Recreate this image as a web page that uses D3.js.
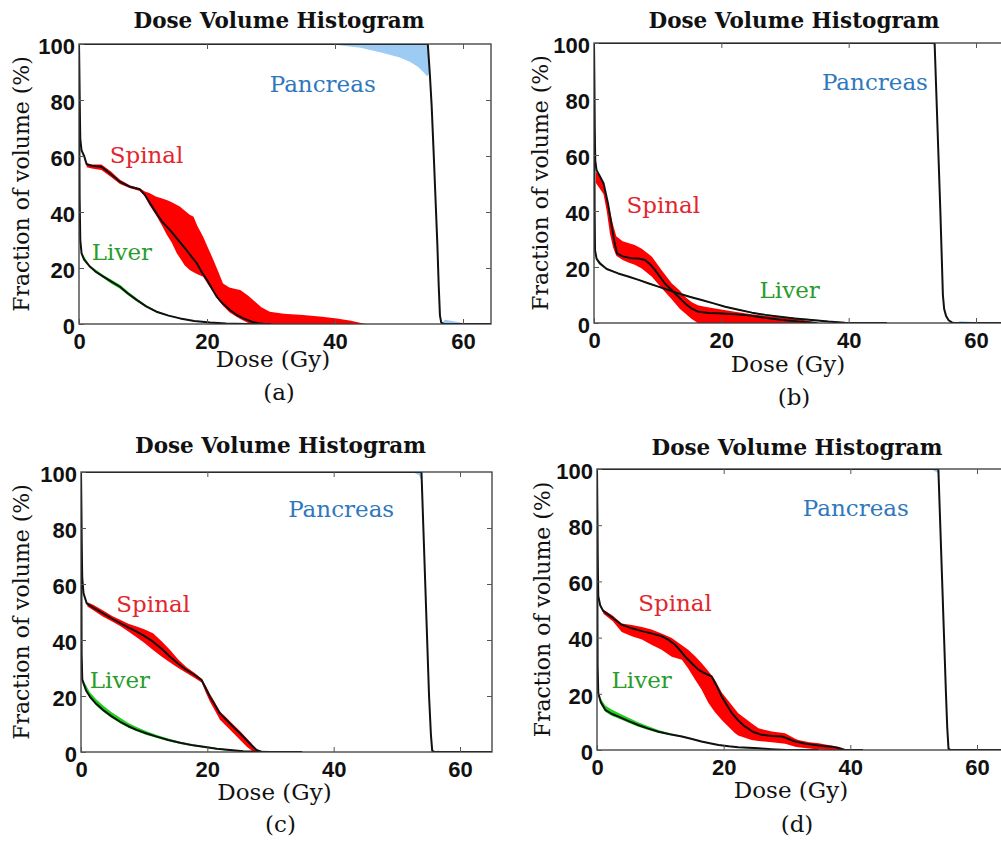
<!DOCTYPE html>
<html lang="en">
<head>
  <meta charset="UTF-8">
  <title>Dose Volume Histogram</title>
  <script src="https://d3js.org/d3.v7.min.js"></script>
  <style>
    body { margin: 0; background: #fff; }
  </style>
</head>
<body>
<script>
// Data: [dose (Gy), volume %] for lines, [dose, low %, high %] for bands

// ---- panel (a)
const pancreasLineA = [[0,100],[54.5,100],[54.8,90],[55.1,78],[55.4,62],[55.7,45],[56,28],[56.2,14],[56.4,3],[56.6,0.5],[57,0],[65,0]];
const pancreasBandA = [[37,100,100],[40,99.7,100],[44,98.7,100],[47.5,96.8,100],[50,95.3,100],[51.7,93.7,100],[53,91.8,100],[53.8,90,100],[54.4,88.5,100],[54.6,89,95],[54.75,90,90],[56.6,0,0],[57.2,0,1.5],[58.5,0,1],[60,0,0.4],[60.5,0,0]];
const spinalLineA = [[0,100],[0.1,80],[0.2,66],[0.4,62],[0.8,60],[1.2,57],[2,56.5],[3.5,56.2],[5,53.5],[6.4,50.8],[8,49],[9.5,48.1],[10.3,46.1],[11,43.5],[12.1,39.5],[13,36.5],[14.2,33.6],[15.5,30],[16.8,26.4],[17.6,24],[18.4,21.7],[19.2,18.5],[20,15.7],[20.8,12.5],[21.5,9.8],[22.5,7.2],[23.6,5],[24.6,3.3],[25.7,2],[27,0.8],[28,0.3],[29,0]];
const spinalBandA = [[1.2,56,57.5],[2,55.5,57],[3.5,55,57],[5,52.5,54.5],[6.4,50,51.5],[8,48.5,49.5],[9.5,47.5,48.5],[10.3,45.5,47.3],[11,42.5,46.8],[12,39,45.5],[13,35,44.8],[13.7,32,44.3],[14.5,29,43.5],[15.3,25.2,42.5],[15.8,23.5,41.9],[16.5,21,40.5],[17.3,19.3,39],[17.9,18.5,38.3],[18.5,17.8,35],[19.4,16.9,31.2],[20.2,14,27],[21,11.5,22.9],[21.8,8.5,18.5],[22.5,6.5,14.5],[23.5,4.2,13],[24.6,2.6,12.4],[25.2,1.8,12.1],[26.5,0.3,10],[27.2,0,8.6],[28.5,0,6],[29.8,0,4.4],[32,0,3.7],[35,0,3.2],[38,0,2.6],[40.3,0,2],[42.5,0,1.2],[44.4,0,0.2],[45,0,0]];
const liverLineA = [[0,100],[0.05,70],[0.1,45],[0.2,30],[0.4,25.2],[0.8,23],[1.7,20.5],[2.7,18.5],[3.8,16.9],[5,15.2],[6.4,13.3],[7.6,11],[9,8.6],[10.5,6.3],[12.1,4.4],[14,3],[15.8,2],[18,1.1],[20.5,0.5],[23,0.2],[26.2,0],[30,0]];
const liverBandA = [[0.4,24.8,25.6],[1.7,20.1,20.9],[3.8,16.4,17.5],[5,14.5,15.9],[6.4,12.6,14],[7.6,10.4,11.7],[9,8.1,9.2],[10.5,5.9,6.7],[12.1,4.1,4.7],[14,2.8,3.2],[15.8,1.8,2.2],[18,1,1.2],[20.5,0.4,0.6],[23,0.1,0.3]];

// ---- panel (b)
const pancreasLineB = [[0,100],[53.5,100],[53.8,80],[54.1,60],[54.4,40],[54.6,25],[54.8,10],[55,5],[55.3,2.5],[55.7,1],[56.2,0.2],[56.6,0],[65,0]];
const pancreasBandB = [[52,100,100],[53.5,99.4,100],[53.8,80,80],[56.6,0,0],[57.5,0,0.6],[59.5,0,0.4],[60.5,0,0]];
const spinalLineB = [[0,100],[0.1,70],[0.2,58],[0.4,54.6],[0.9,52.5],[1.5,49.9],[2.2,42.7],[2.8,34.4],[3.2,29],[3.6,24.9],[4.5,23.8],[5.9,23.1],[7,23],[8,22.5],[8.8,21],[9.6,18.9],[11.1,14.2],[12.7,10.6],[14.3,7],[15.3,5.2],[16.4,4],[18,3.6],[19.5,3.5],[21.5,3.2],[23.7,2.9],[25.5,2.3],[27.4,1.7],[30,1],[32.1,0.5],[35,0]];
const spinalBandB = [[0.3,50,54],[0.9,48,52.5],[1.5,46,50],[2,40,45],[2.5,32,40],[3,27,35],[3.5,24,31],[4.5,22.5,29.2],[5.5,21.5,28.5],[6.4,20.8,27.9],[7.5,19.5,26.5],[9.1,16.5,23.7],[10.6,12.5,18.9],[12.2,8.5,14.2],[13.5,5,11.5],[14.3,3.5,9.4],[15.3,1.5,7.5],[16.3,0,6.3],[17.4,0,5.8],[19.5,0,5],[22.1,0,4],[25,0,3],[27.9,0,2.3],[30,0,1.8],[32,0,1.4],[33.5,0,0.8],[35,0,0.2],[35.5,0,0]];
const liverLineB = [[0,100],[0.05,70],[0.1,40],[0.16,26],[0.4,23],[0.9,21.3],[2,19.3],[3.8,17.7],[5.5,16.5],[7,15.4],[8.5,14.2],[10.1,13],[11.7,11.8],[13.2,10.6],[15,9.4],[16.9,8.2],[18.8,7],[20.6,5.8],[22.7,4.7],[24.8,3.7],[26.9,2.9],[28.9,2.3],[31.5,1.6],[34.2,1.1],[36.8,0.5],[39.4,0.1],[42,0],[46,0]];
const liverBandB = [[0.4,22.8,23.2],[2,19.1,19.5],[3.8,17.5,17.9],[7,15.2,15.6],[10.1,12.8,13.2],[13.2,10.4,10.8],[16.9,8,8.4],[20.6,5.6,6],[24.8,3.5,3.9],[28.9,2.1,2.5],[34.2,0.9,1.3],[39.4,0,0.2]];

// ---- panel (c)
const pancreasLineC = [[0,100],[53.9,100],[54.2,80],[54.5,60],[54.8,40],[55.1,20],[55.4,6],[55.6,0.5],[56,0],[65,0]];
const pancreasBandC = [[52.5,100,100],[53.5,98.8,100],[53.9,97,100],[54.1,90,90],[55.6,0,0],[56.5,0,0.5],[58,0,0]];
const spinalLineC = [[0,100],[0.1,75],[0.2,62],[0.4,56.7],[0.9,53.1],[2,51.5],[3.5,49.5],[5,47.5],[6.2,46],[7.5,44.5],[8.8,43],[10,41.5],[11.4,39.4],[12.8,36.8],[14.1,34],[15.4,31.5],[16.7,29.3],[18,27.5],[19.1,25.7],[19.8,22.5],[20.4,19.8],[21.2,16.8],[22,13.8],[23,11.5],[24.1,9],[25.2,6.6],[26.2,4.3],[27,2.4],[27.8,0.7],[28.6,0],[32,0]];
const spinalBandC = [[1,52,53.5],[2,50.5,52.5],[3.5,48.3,50.5],[5,46.5,48.5],[6.2,45,47.2],[7.5,43,45.8],[8.8,41,44.8],[10,39,43.8],[11.4,36.4,42.4],[12.8,34,39.5],[14.1,32,36.4],[15.4,30,33],[16.7,28.2,30.3],[18,26.4,28.2],[19.1,24.8,26.2],[19.8,21,23.5],[20.4,18,20.8],[21.2,14.8,17.8],[22,11.5,14.5],[23,9.3,12.3],[24.1,6.8,9.8],[25.2,4.3,7.4],[26.2,2,5],[27,0.5,3],[27.5,0,1.5],[28,0,0.5],[28.4,0,0]];
const liverLineC = [[0,100],[0.05,70],[0.1,35],[0.2,26],[0.4,24.5],[0.8,22],[1.4,19.8],[2.4,17.2],[3.5,15],[4.8,12.8],[6.2,10.8],[7.5,9.2],[8.8,7.9],[10.4,6.6],[12,5.5],[13.8,4.3],[15.7,3.3],[17.5,2.5],[19.4,1.9],[21.5,1.2],[23.6,0.7],[25.7,0.3],[27.8,0.1],[30,0],[35,0]];
const liverBandC = [[0.4,24,25.5],[1.4,19.2,21.3],[2.4,16.6,18.8],[3.5,14.4,16.6],[4.8,12.2,14.3],[6.2,10.3,12.2],[7.5,8.7,10.4],[8.8,7.4,8.9],[10.4,6.1,7.4],[12,5,6.1],[13.8,3.9,4.8],[15.7,2.9,3.7],[17.5,2.1,2.8],[19.4,1.5,2.1],[21.5,0.9,1.4],[23.6,0.4,0.9],[25.7,0.1,0.4],[27.8,0,0.1]];

// ---- panel (d)
const pancreasLineD = [[0,100],[53.9,100],[54.2,80],[54.5,60],[54.8,40],[55.1,20],[55.3,8],[55.5,0.5],[55.8,0],[65,0]];
const pancreasBandD = [[52,100,100],[53,99.6,100],[53.9,98.5,100],[54.1,90,90],[55.5,0,0],[56.5,0,0.4],[57.5,0,0]];
const spinalLineD = [[0,100],[0.1,70],[0.2,54.8],[0.5,51.5],[1,49.4],[2.5,47],[3.9,44.6],[5.5,43.3],[7.1,42.3],[8.6,41.5],[10.2,40.5],[11.3,39.2],[12.3,37.5],[13.1,35.5],[13.9,33.3],[15,30.8],[16,28.6],[17,27.3],[18.1,26.2],[18.9,22.8],[19.7,19],[20.5,16],[21.3,13.1],[22.3,10.5],[23.4,8.3],[24.6,6.5],[26,5.4],[27.6,5],[29.2,4.8],[30.3,3.9],[31.3,3],[32.8,2.3],[34.4,1.8],[35.7,1.4],[37.1,1.2],[38.1,0.7],[39,0],[42,0]];
const spinalBandD = [[1,48.5,50],[2.5,45.8,47.8],[3.9,42,45],[5.5,40.5,44.5],[7.1,39.3,43.8],[8.6,37.5,42.9],[10.2,35.7,41.5],[11.8,33.2,39.9],[13.4,32.1,37.3],[14.4,29,35.7],[15.5,25,33.4],[16.5,21.5,31],[17.6,16.7,28],[18.6,13.5,25],[19.7,10.7,20.5],[20.2,9.5,19],[21.8,6,14.5],[22.3,5.2,13.1],[24.4,3.6,9.5],[25.5,3.2,7.7],[27.6,2.8,6.6],[29.7,2.2,6],[31.3,1.2,4],[31.8,1,3.6],[33.5,0.5,2.8],[35,0.2,2.4],[36.5,0,1.8],[38.1,0,1.2],[39.5,0,0.2],[40,0,0]];
const liverLineD = [[0,100],[0.05,60],[0.1,30],[0.2,20.2],[0.6,17],[1.3,14.3],[2.3,12.9],[3.4,11.9],[5,10.3],[6.5,8.9],[8,7.7],[9.7,6.5],[11.5,5.6],[13.4,4.8],[15,3.9],[16.5,3],[18,2.3],[19.2,1.8],[20.8,1.3],[22.3,1],[24,0.8],[25.5,0.6],[27.5,0.3],[30,0],[35,0]];
const liverBandD = [[0.2,19.5,21],[0.6,16.3,18.3],[1.3,13.6,15.8],[2.3,12.2,14.4],[3.4,11.2,13.2],[5,9.7,11.5],[6.5,8.3,9.9],[8,7.2,8.5],[9.7,6.1,7.1],[11.5,5.3,6],[13.4,4.5,5.1],[15,3.7,4.2],[16.5,2.8,3.2],[19.2,1.6,2],[22.3,0.8,1.1],[25.5,0.4,0.7]];

// axis ticks and text
const xTicks = [0, 20, 40, 60];
const yTicks = [0, 20, 40, 60, 80, 100];
const titleText = 'Dose Volume Histogram';
const xLabelText = 'Dose (Gy)';
const yLabelText = 'Fraction of volume (%)';

// layout in pixels, label anchors in data units
const panels = [
  {cap: '(a)', x0: 79, x60: 463, right: 491, top: 44, bottom: 324, titleY: 28, xlabY: 367, capY: 400, ylabX: 29,
   pan: [pancreasLineA, pancreasBandA], sp: [spinalLineA, spinalBandA], lv: [liverLineA, liverBandA],
   labels: {Pancreas: [29.8, 82.9], Spinal: [4.8, 57.5], Liver: [2, 22.9]}},
  {cap: '(b)', x0: 594, x60: 976, right: 1006, top: 43, bottom: 323, titleY: 28, xlabY: 372, capY: 405, ylabX: 548,
   pan: [pancreasLineB, pancreasBandB], sp: [spinalLineB, spinalBandB], lv: [liverLineB, liverBandB],
   labels: {Pancreas: [35.8, 83.2], Spinal: [5.1, 39.3], Liver: [26, 8.9]}},
  {cap: '(c)', x0: 81, x60: 460, right: 492, top: 472, bottom: 752, titleY: 453, xlabY: 800, capY: 832, ylabX: 29,
   pan: [pancreasLineC, pancreasBandC], sp: [spinalLineC, spinalBandC], lv: [liverLineC, liverBandC],
   labels: {Pancreas: [32.8, 84], Spinal: [5.6, 50.1], Liver: [1.4, 22.7]}},
  {cap: '(d)', x0: 597, x60: 977, right: 1009, top: 469, bottom: 750, titleY: 455, xlabY: 798, capY: 832, ylabX: 550,
   pan: [pancreasLineD, pancreasBandD], sp: [spinalLineD, spinalBandD], lv: [liverLineD, liverBandD],
   labels: {Pancreas: [32.5, 83.3], Spinal: [6.5, 49.4], Liver: [2.3, 22]}}
];

const colors = {
  Pancreas: {band: '#9ccbf4', text: '#2f78bd'},
  Spinal: {band: '#ff0000', text: '#e2262d'},
  Liver: {band: '#1fd01f', text: '#2a9c2a'}
};

const serif = '"DejaVu Serif", serif';
const sans = '"Liberation Sans", Arial, sans-serif';

const svg = d3.select('body').append('svg')
  .attr('width', 1001).attr('height', 841)
  .style('display', 'block');

panels.forEach((p, i) => {
  const x = d3.scaleLinear().domain([0, 60]).range([p.x0, p.x60]);
  const y = d3.scaleLinear().domain([0, 100]).range([p.bottom, p.top]);
  const g = svg.append('g');

  svg.append('clipPath').attr('id', 'clip' + i)
    .append('rect')
    .attr('x', p.x0).attr('y', p.top)
    .attr('width', p.right - p.x0).attr('height', p.bottom - p.top);

  const plot = g.append('g').attr('clip-path', `url(#clip${i})`);

  const area = d3.area().x(d => x(d[0])).y0(d => y(d[1])).y1(d => y(d[2]));
  const line = d3.line().x(d => x(d[0])).y(d => y(d[1]));

  // bands
  [['Pancreas', p.pan], ['Spinal', p.sp], ['Liver', p.lv]].forEach(([name, s]) => {
    plot.append('path').datum(s[1])
      .attr('d', area)
      .attr('fill', colors[name].band);
  });
  // mean curves
  [p.pan, p.sp, p.lv].forEach(s => {
    plot.append('path').datum(s[0])
      .attr('d', line)
      .attr('fill', 'none')
      .attr('stroke', '#111')
      .attr('stroke-width', 2)
      .attr('stroke-linejoin', 'round');
  });

  // box
  g.append('rect')
    .attr('x', p.x0).attr('y', p.top)
    .attr('width', p.right - p.x0).attr('height', p.bottom - p.top)
    .attr('fill', 'none').attr('stroke', '#3a3a3a').attr('stroke-width', 1.3);

  // axes (ticks pointing inward)
  const styleAxis = sel => {
    sel.select('.domain').remove();
    sel.selectAll('.tick line').attr('stroke', '#555').attr('stroke-width', 1);
    sel.selectAll('text')
      .attr('font-family', sans).attr('font-weight', 'bold')
      .attr('font-size', 22).attr('fill', '#111');
  };
  g.append('g').attr('transform', `translate(0,${p.bottom})`)
    .call(d3.axisBottom(x).tickValues(xTicks).tickSize(-5).tickPadding(9).tickFormat(d3.format('d')))
    .call(styleAxis);
  g.append('g').attr('transform', `translate(0,${p.top})`)
    .call(d3.axisTop(x).tickValues(xTicks.slice(1)).tickSize(-5).tickFormat(''))
    .call(styleAxis);
  g.append('g').attr('transform', `translate(${p.x0},0)`)
    .call(d3.axisLeft(y).tickValues(yTicks).tickSize(-5).tickPadding(4).tickFormat(d3.format('d')))
    .call(styleAxis)
    .selectAll('text').attr('dy', '0.42em');
  g.append('g').attr('transform', `translate(${p.right},0)`)
    .call(d3.axisRight(y).tickValues(yTicks.slice(1, -1)).tickSize(-5).tickFormat(''))
    .call(styleAxis);

  const cx = (p.x0 + p.right) / 2;

  // title
  g.append('text')
    .attr('x', cx - 6).attr('y', p.titleY)
    .attr('text-anchor', 'middle')
    .attr('font-family', serif).attr('font-weight', 'bold').attr('font-size', 21.5)
    .attr('fill', '#111')
    .text(titleText);

  // x label
  g.append('text')
    .attr('x', cx - 12).attr('y', p.xlabY)
    .attr('text-anchor', 'middle')
    .attr('font-family', serif).attr('font-size', 23).attr('fill', '#111')
    .text(xLabelText);

  // y label
  g.append('text')
    .attr('transform', `translate(${p.ylabX},${(p.top + p.bottom) / 2}) rotate(-90)`)
    .attr('text-anchor', 'middle')
    .attr('font-family', serif).attr('font-size', 22).attr('fill', '#111')
    .text(yLabelText);

  // caption
  g.append('text')
    .attr('x', cx - 6).attr('y', p.capY)
    .attr('text-anchor', 'middle')
    .attr('font-family', serif).attr('font-size', 23).attr('fill', '#111')
    .text(p.cap);

  // structure labels
  Object.entries(p.labels).forEach(([name, pos]) => {
    g.append('text')
      .attr('x', x(pos[0])).attr('y', y(pos[1]))
      .attr('font-family', serif).attr('font-size', 23)
      .attr('fill', colors[name].text)
      .text(name);
  });
});
</script>
</body>
</html>
